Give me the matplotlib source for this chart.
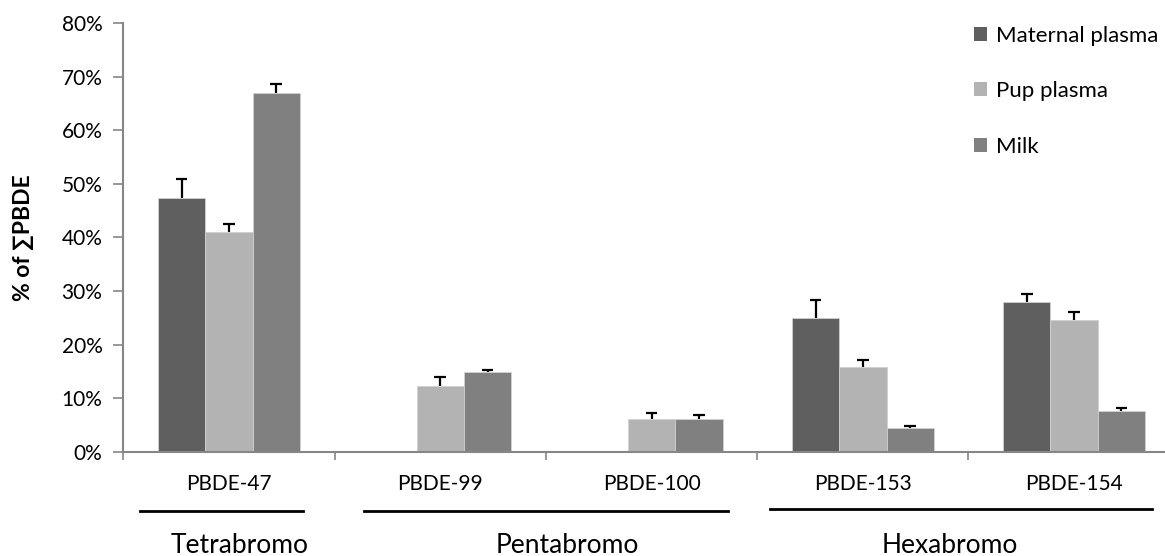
import numpy as np
import matplotlib
matplotlib.use("Agg")
import matplotlib.pyplot as plt
from matplotlib.patches import Patch

# Congener shares of total PBDE (%), mean with upper error
congeners = ["PBDE-47", "PBDE-99", "PBDE-100", "PBDE-153", "PBDE-154"]
series = ["Maternal plasma", "Pup plasma", "Milk"]

maternal = [47.4, 0.15, 0.15, 25.0, 27.9]
maternal_err = [3.5, 0.0, 0.0, 3.4, 1.6]
pup = [41.0, 12.2, 6.1, 15.8, 24.6]
pup_err = [1.6, 1.7, 1.1, 1.3, 1.4]
milk = [67.0, 14.8, 6.1, 4.4, 7.6]
milk_err = [1.6, 0.5, 0.7, 0.3, 0.6]

groups = ["Tetrabromo", "Pentabromo", "Hexabromo"]
group_spans = [(0.08, 0.85), (1.14, 2.86), (3.06, 4.87)]
group_centers = [0.55, 2.1, 3.91]

colors = ["#5f5f5f", "#b3b3b3", "#808080"]
axis_grey = "#868686"

plt.rcParams["font.family"] = ["Lato", "DejaVu Sans"]

fig = plt.figure(figsize=(11.65, 5.56), dpi=100)
ax = fig.add_axes([0.1058, 0.1878, 0.9069, 0.7703])

x = np.arange(len(congeners)) + 0.5
w = 0.224
cap = 0.028  # half width of the error bar cap, in category units
for i, (vals, errs) in enumerate([(maternal, maternal_err), (pup, pup_err), (milk, milk_err)]):
    pos = x + (i - 1) * w
    vals = np.array(vals)
    e = np.array(errs)
    ax.bar(pos, vals, width=w, color=colors[i], edgecolor="#d0d0d0", linewidth=0.6, zorder=2)
    # upper-only error bars: stem from bar top plus a cap
    m = e > 0
    ax.vlines(pos[m], vals[m], vals[m] + e[m], color="black", lw=1.6, zorder=3)
    ax.hlines(vals[m] + e[m], pos[m] - cap, pos[m] + cap, color="black", lw=1.6, zorder=3)

ax.set_xlim(0, 5)
ax.set_ylim(0, 80)
ax.set_yticks(np.arange(0, 81, 10))
ax.set_yticklabels([f"{v}%" for v in range(0, 81, 10)], fontsize=15)
ax.set_xticks(np.arange(0, 6))
ax.set_xticklabels([])
ax.set_xticks(x, minor=True)
ax.set_xticklabels(congeners, minor=True, fontsize=15)
ax.tick_params(axis="x", which="major", direction="out", length=6, width=1.2, color=axis_grey)
ax.tick_params(axis="x", which="minor", length=0, pad=16)
ax.tick_params(axis="y", direction="out", length=7, width=1.2, color=axis_grey, pad=8)

for side in ["top", "right"]:
    ax.spines[side].set_visible(False)
for side in ["left", "bottom"]:
    ax.spines[side].set_color(axis_grey)
    ax.spines[side].set_linewidth(1.5)

ax.set_ylabel("% of ∑PBDE", fontsize=16.5, fontweight="bold", labelpad=20)

# bracket lines and family names under the congener labels
trans = ax.get_xaxis_transform()
line_y = [-0.139, -0.139, -0.135]
for (x0, x1), cx, name, ly in zip(group_spans, group_centers, groups, line_y):
    ax.plot([x0, x1], [ly, ly], color="black", lw=2, transform=trans, clip_on=False)
    ax.text(cx, -0.22, name, transform=trans, ha="center", va="center", fontsize=19)

handles = [Patch(facecolor=c, edgecolor="none") for c in colors]
fig.legend(handles, series, loc="upper left", bbox_to_anchor=(0.828, 0.97), frameon=False,
           fontsize=16, handlelength=0.6, handleheight=0.6, handletextpad=0.4,
           labelspacing=1.6, borderaxespad=0)

fig.savefig("out.png", dpi=100)
